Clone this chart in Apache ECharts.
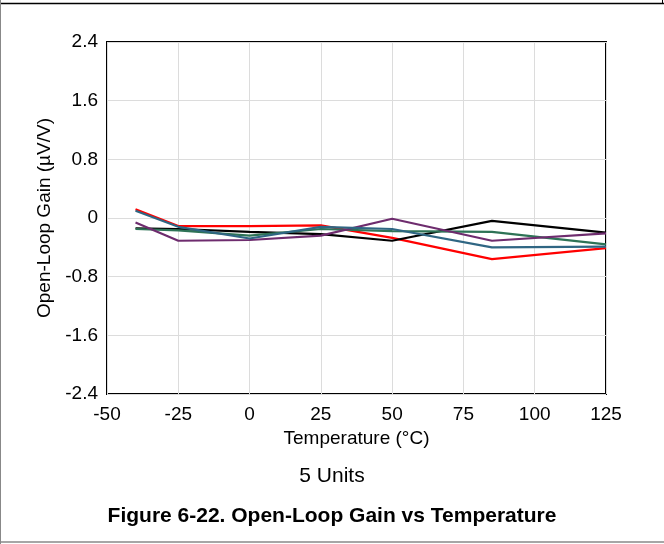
<!DOCTYPE html>
<html>
<head>
<meta charset="utf-8">
<script src="https://cdn.jsdelivr.net/npm/echarts@6/dist/echarts.min.js"></script>
<style>
html,body{margin:0;padding:0;background:#fff;}
#chart{width:664px;height:544px;}
</style>
</head>
<body>
<div id="chart"></div>
<script>
var temps = [-40, -25, 0, 25, 50, 85, 125];
var unitRed    = [0.12, -0.11, -0.11, -0.10, -0.27, -0.56, -0.41];
var unitBlack  = [-0.14, -0.15, -0.19, -0.22, -0.31, -0.04, -0.20];
var unitGreen  = [-0.15, -0.17, -0.24, -0.15, -0.18, -0.19, -0.36];
var unitPurple = [-0.06, -0.31, -0.30, -0.24, -0.01, -0.31, -0.21];
var unitBlue   = [0.10, -0.12, -0.28, -0.12, -0.15, -0.40, -0.39];

var seriesDefs = [
  {name:'Unit 1', data: unitRed, color:'#FF0000'},
  {name:'Unit 2', data: unitBlack, color:'#000000'},
  {name:'Unit 3', data: unitGreen, color:'#2E7356'},
  {name:'Unit 4', data: unitPurple, color:'#6E2C6E'},
  {name:'Unit 5', data: unitBlue, color:'#2F6683'}
];

var chart = echarts.init(document.getElementById('chart'), null, {renderer:'canvas'});
var font = 'Liberation Sans, Arial, sans-serif';
chart.setOption({
  animation:false,
  backgroundColor:'#ffffff',
  grid:{left:107, top:42, right:58, bottom:150, show:true, borderColor:'#000', borderWidth:2, backgroundColor:'transparent'},
  xAxis:{
    type:'value', min:-50, max:125, interval:25,
    name:'Temperature (°C)', nameLocation:'middle', nameGap:33,
    nameTextStyle:{fontFamily:font, fontSize:19, color:'#000'},
    axisLine:{show:false}, axisTick:{show:false},
    axisLabel:{fontFamily:font, fontSize:19, color:'#000', margin:11},
    splitLine:{show:true, lineStyle:{color:'#dcdcdc', width:1}}
  },
  yAxis:{
    type:'value', min:-2.4, max:2.4, interval:0.8,
    name:'Open-Loop Gain (µV/V)', nameLocation:'middle', nameGap:52,
    nameTextStyle:{fontFamily:font, fontSize:19, color:'#000'},
    axisLine:{show:false}, axisTick:{show:false},
    axisLabel:{fontFamily:font, fontSize:19, color:'#000', margin:9,
      formatter:function(v){ var r=Math.round(v*10)/10; return r===0?'0':r.toFixed(1);} },
    splitLine:{show:true, lineStyle:{color:'#dcdcdc', width:1}}
  },
  series: seriesDefs.map(function(s){
    return {
      name:s.name, type:'line', symbol:'none', silent:true,
      data: temps.map(function(t,i){return [t, s.data[i]];}),
      lineStyle:{color:s.color, width:2.2},
      itemStyle:{color:s.color}
    };
  }),
  graphic:[
    {type:'line', shape:{x1:0,y1:3.5,x2:664,y2:3.5}, style:{stroke:'#000', lineWidth:1.5}},
    {type:'line', shape:{x1:0.5,y1:0,x2:0.5,y2:544}, style:{stroke:'#888', lineWidth:1}},
    {type:'line', shape:{x1:0,y1:542,x2:664,y2:542}, style:{stroke:'#888', lineWidth:1.5}},
    {type:'line', shape:{x1:662.5,y1:0,x2:662.5,y2:3}, style:{stroke:'#000', lineWidth:1}},
    {type:'text', left:'center', top:466, style:{text:'5 Units', font:'21px '+font, fill:'#000'}},
    {type:'text', left:'center', top:506, style:{text:'Figure 6-22. Open-Loop Gain vs Temperature', font:'bold 21px '+font, fill:'#000'}}
  ]
});
</script>
</body>
</html>
